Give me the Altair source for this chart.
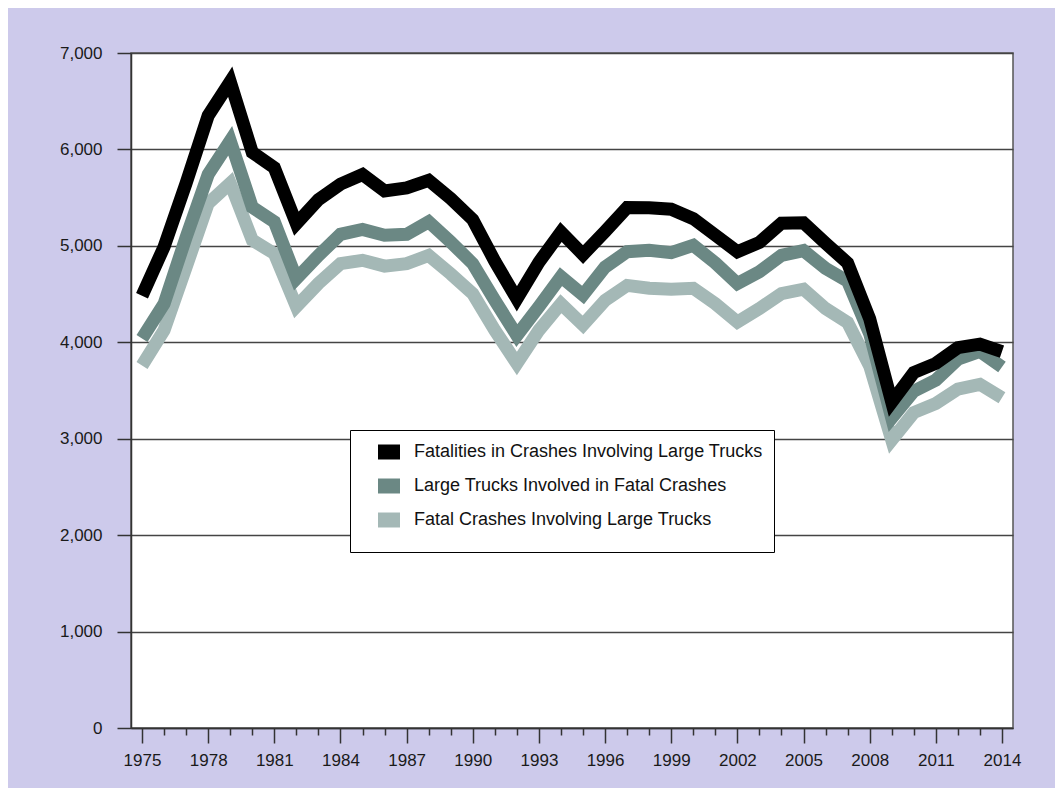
import altair as alt
import pandas as pd

years = list(range(1975, 2015))

fatalities = [4483, 4990, 5650, 6350, 6702, 5970, 5810, 5230, 5480, 5640,
              5740, 5570, 5600, 5680, 5490, 5272, 4840, 4450, 4830, 5144,
              4910, 5150, 5398, 5395, 5380, 5282, 5111, 4939, 5036, 5235,
              5240, 5027, 4822, 4245, 3380, 3686, 3781, 3944, 3981, 3903]

trucks = [4040, 4400, 5090, 5740, 6090, 5400, 5250, 4660, 4900, 5120,
          5170, 5110, 5120, 5250, 5040, 4815, 4435, 4070, 4370, 4680,
          4490, 4780, 4940, 4955, 4930, 5005, 4823, 4609, 4731, 4902,
          4951, 4766, 4633, 4089, 3215, 3494, 3608, 3825, 3906, 3744]

crashes = [3760, 4125, 4780, 5440, 5650, 5060, 4920, 4370, 4610, 4815,
           4850, 4790, 4815, 4900, 4710, 4505, 4125, 3780, 4125, 4400,
           4180, 4435, 4590, 4560, 4550, 4560, 4400, 4210, 4350, 4505,
           4551, 4350, 4204, 3754, 2987, 3271, 3365, 3514, 3564, 3424]

series_names = ["Fatalities in Crashes Involving Large Trucks",
                "Large Trucks Involved in Fatal Crashes",
                "Fatal Crashes Involving Large Trucks"]
series_colors = ["#000000", "#6B8884", "#A4B8B6"]
y_ticks = [0, 1000, 2000, 3000, 4000, 5000, 6000, 7000]

rows = []
for name, vals in zip(series_names, [fatalities, trucks, crashes]):
    for y, v in zip(years, vals):
        rows.append({"year": y, "value": v, "series": name})
df = pd.DataFrame(rows)

x_enc = alt.X(
    "year:Q",
    scale=alt.Scale(domain=[1974.5, 2014.5], nice=False, zero=False),
    axis=alt.Axis(
        values=years,
        format="d",
        title=None,
        grid=False,
        labelOverlap=False,
        labelExpr="(datum.value - 1975) % 3 === 0 ? datum.label : ''",
        tickSize={"condition": {"test": "(datum.value - 1975) % 3 === 0", "value": 15}, "value": 7},
        tickColor="#333333",
        tickWidth=1.5,
        domainColor="#333333",
        domainWidth=1.5,
        labelFont="Liberation Sans",
        labelFontSize=17,
        labelColor="#1a1a1a",
        labelPadding=9,
    ),
)
y_enc = alt.Y(
    "value:Q",
    scale=alt.Scale(domain=[0, 7000], nice=False),
    axis=alt.Axis(
        values=y_ticks,
        format=",d",
        title=None,
        grid=True,
        gridColor="#444444",
        gridWidth=1.3,
        tickSize=14,
        tickColor="#333333",
        tickWidth=1.5,
        domainColor="#333333",
        domainWidth=1.5,
        labelFont="Liberation Sans",
        labelFontSize=17,
        labelColor="#1a1a1a",
        labelPadding=15,
    ),
)
color_enc = alt.Color(
    "series:N",
    scale=alt.Scale(domain=series_names, range=series_colors),
    legend=alt.Legend(
        title=None,
        orient="none",
        legendX=219,
        legendY=377,
        direction="vertical",
        fillColor="white",
        strokeColor="#000000",
        padding=11,
        symbolType="M-1,-0.4615H1V0.4615H-1Z",
        symbolSize=169,
        symbolStrokeWidth=9,
        symbolOffset=17,
        labelOffset=14,
        labelFont="Liberation Sans",
        labelFontSize=18,
        labelColor="#111111",
        labelLimit=700,
        rowPadding=-8,
    ),
)

layers = []
for name in reversed(series_names):
    layers.append(
        alt.Chart(df)
        .transform_filter(alt.datum.series == name)
        .mark_line(strokeWidth=13, strokeJoin="miter", strokeCap="butt")
        .encode(x=x_enc, y=y_enc, color=color_enc)
    )

chart = (
    alt.layer(*layers)
    .properties(
        width=882,
        height=675,
        background="#CDCAEB",
        padding={"left": 123, "top": 45, "right": 42, "bottom": 60},
        autosize=alt.AutoSizeParams(type="none"),
    )
    .configure_view(fill="white", stroke="#555555", strokeWidth=1.5)
)

chart.save("out.html", embed_options={"renderer": "svg", "actions": False})
